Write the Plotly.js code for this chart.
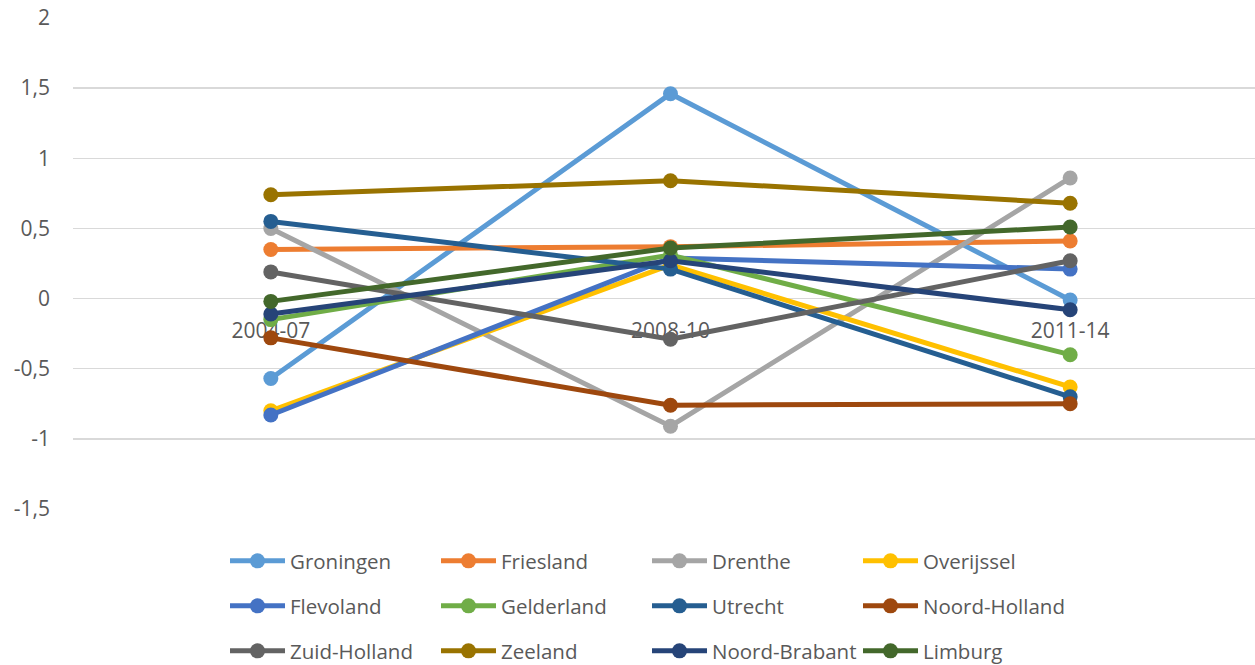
<!DOCTYPE html>
<html>
<head>
<meta charset="utf-8">
<script src="https://cdn.plot.ly/plotly-3.0.1.min.js"></script>
<style>html,body{margin:0;padding:0;background:#fff;overflow:hidden;}#chart{width:1255px;height:685px;}</style>
</head>
<body>
<div id="chart"></div>
<script>
const categories = ['2004-07', '2008-10', '2011-14'];

const groningen    = [-0.57, 1.46, -0.01];
const friesland    = [0.35, 0.37, 0.41];
const drenthe      = [0.50, -0.91, 0.86];
const overijssel   = [-0.80, 0.24, -0.63];
const flevoland    = [-0.83, 0.29, 0.21];
const gelderland   = [-0.15, 0.31, -0.40];
const utrecht      = [0.55, 0.21, -0.70];
const noordHolland = [-0.28, -0.76, -0.75];
const zuidHolland  = [0.19, -0.29, 0.27];
const zeeland      = [0.74, 0.84, 0.68];
const noordBrabant = [-0.11, 0.27, -0.08];
const limburg      = [-0.02, 0.36, 0.51];

const seriesNames = ['Groningen','Friesland','Drenthe','Overijssel','Flevoland','Gelderland',
                     'Utrecht','Noord-Holland','Zuid-Holland','Zeeland','Noord-Brabant','Limburg'];
const seriesValues = [groningen, friesland, drenthe, overijssel, flevoland, gelderland,
                      utrecht, noordHolland, zuidHolland, zeeland, noordBrabant, limburg];
const seriesColors = ['#5B9BD5','#ED7D31','#A5A5A5','#FFC000','#4472C4','#70AD47',
                      '#255E91','#9E480E','#636363','#997300','#264478','#43682B'];

const yTickVals = [-1.5, -1, -0.5, 0, 0.5, 1, 1.5, 2];
const yTickText = ['-1,5', '-1', '-0,5', '0', '0,5', '1', '1,5', '2'];

const legendIds = ['legend', 'legend2', 'legend3'];

const traces = seriesNames.map((name, i) => ({
  type: 'scatter',
  mode: 'lines+markers',
  name: name,
  x: categories,
  y: seriesValues[i],
  line: {color: seriesColors[i], width: 5},
  marker: {color: seriesColors[i], size: 15},
  legend: legendIds[Math.floor(i / 4)],
  hoverinfo: 'x+y+name'
}));

const textColor = '#595959';
const fontFam = 'Open Sans, Liberation Sans, sans-serif';

function legendAt(yPaper) {
  return {
    orientation: 'h',
    x: 0.1286, xanchor: 'left',
    y: yPaper, yanchor: 'middle',
    itemwidth: 55,
    entrywidth: 141,
    font: {family: fontFam, size: 20.5, color: textColor},
    bgcolor: 'rgba(0,0,0,0)',
    itemclick: false, itemdoubleclick: false
  };
}

const layout = {
  width: 1255, height: 685,
  margin: {l: 73, r: 0, t: 18, b: 176},
  paper_bgcolor: '#ffffff',
  plot_bgcolor: '#ffffff',
  separators: ',.',
  font: {family: fontFam, size: 21, color: textColor},
  showlegend: true,
  xaxis: {
    type: 'category',
    range: [-0.495, 2.4625],
    showgrid: false, zeroline: false, showline: false,
    ticks: '',
    anchor: 'free', position: 1.5 / 3.5,
    layer: 'below traces',
    ticklabelstandoff: 17,
    tickfont: {family: fontFam, size: 21, color: textColor}
  },
  yaxis: {
    range: [-1.5, 2],
    tickmode: 'array', tickvals: yTickVals, ticktext: yTickText,
    showgrid: true, gridcolor: '#D9D9D9', gridwidth: 1.3,
    zeroline: false, showline: false, ticks: '',
    ticklabelstandoff: 22,
    tickfont: {family: fontFam, size: 21, color: textColor}
  },
  legend: legendAt(-0.1059),
  legend2: legendAt(-0.1976),
  legend3: legendAt(-0.2892)
};

Plotly.newPlot('chart', traces, layout, {displayModeBar: false, staticPlot: true});
</script>
</body>
</html>
